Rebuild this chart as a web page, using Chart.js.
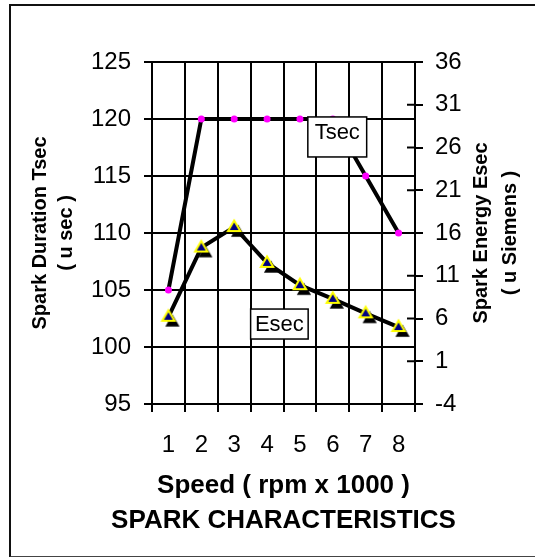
<!DOCTYPE html>
<html><head><meta charset="utf-8">
<script src="https://cdn.jsdelivr.net/npm/chart.js@4.4.0/dist/chart.umd.min.js"></script>
<style>
html,body{margin:0;padding:0;background:#fff;width:535px;height:557px;overflow:hidden;}
#frame{position:absolute;left:9px;top:4px;width:600px;height:550px;border-left:2px solid #111;border-top:2px solid #111;border-bottom:2px solid #444;}
#wrap{position:absolute;left:0;top:0;width:535px;height:557px;}
</style></head><body>
<div id="frame"></div>
<div id="wrap"><canvas id="c" width="535" height="557"></canvas></div>
<script>
// ---- data ----
const speeds = ['1','2','3','4','5','6','7','8'];
const tsecValues = [105,120,120,120,120,120,115,110];
const esecValues = [6.2,14.3,16.7,12.5,9.9,8.3,6.6,5.0];
const tsecAxis = [95,125,5];
const esecAxis = [-4,36,5];
const leftTitle = ['Spark Duration Tsec','( u sec )'];
const rightTitle = ['Spark Energy Esec','( u Siemens )'];
const xTitle = 'Speed ( rpm x 1000 )';
const chartTitle = 'SPARK CHARACTERISTICS';
const seriesLabels = ['Tsec','Esec'];

const FONT = "'Liberation Sans', Arial, sans-serif";

// marker for Esec: yellow-outlined navy triangle with black triangle behind
function makeTri(){
  const c = document.createElement('canvas'); c.width = 32; c.height = 32;
  const g = c.getContext('2d');
  function tri(cx, cy, r){
    g.beginPath(); g.moveTo(cx, cy - r);
    g.lineTo(cx + r*0.95, cy + r*0.62); g.lineTo(cx - r*0.95, cy + r*0.62); g.closePath();
  }
  tri(20, 21, 7.5); g.fillStyle = '#000'; g.fill();
  tri(16, 16, 6.5); g.fillStyle = '#000080'; g.fill();
  g.lineWidth = 2; g.strokeStyle = '#ffff00'; g.lineJoin='miter'; g.stroke();
  return c;
}
const triImg = makeTri();

// annotation boxes (in data units)
const notes = [
  {text: seriesLabels[0], x0: 4.24, x1: 6.03, yTop: 120.18, yBot: 116.67},
  {text: seriesLabels[1], x0: 2.50, x1: 4.25, yTop: 103.33, yBot: 100.70}
];

const extras = {
  id: 'extras',
  afterDatasetsDraw(chart){
    const ctx = chart.ctx, xs = chart.scales.x, ys = chart.scales.y;
    ctx.save();
    notes.forEach(n => {
      const l = xs.getPixelForValue(n.x0), r = xs.getPixelForValue(n.x1);
      const t = ys.getPixelForValue(n.yTop), b = ys.getPixelForValue(n.yBot);
      ctx.fillStyle = '#fff'; ctx.fillRect(l, t, r - l, b - t);
      ctx.strokeStyle = '#000'; ctx.lineWidth = 1.5; ctx.strokeRect(l, t, r - l, b - t);
      ctx.fillStyle = '#000'; ctx.font = '22px ' + FONT;
      ctx.textAlign = 'center'; ctx.textBaseline = 'middle';
      ctx.fillText(n.text, (l + r) / 2, t + 15.5);
    });
    ctx.restore();
  },
  afterDraw(chart){
    const ctx = chart.ctx, y2 = chart.scales.y2, ca = chart.chartArea;
    ctx.save();
    // inner tick marks of right axis
    ctx.strokeStyle = '#000'; ctx.lineWidth = 2;
    y2.ticks.forEach(tk => {
      const py = y2.getPixelForValue(tk.value);
      ctx.beginPath(); ctx.moveTo(y2.left - 8, py); ctx.lineTo(y2.left, py); ctx.stroke();
    });
    // right axis title (reads bottom to top)
    const cy = (ca.top + ca.bottom) / 2;
    ctx.fillStyle = '#000'; ctx.font = 'bold 20px ' + FONT;
    ctx.textAlign = 'center'; ctx.textBaseline = 'middle';
    [66, 95].forEach((dx, i) => {
      ctx.save(); ctx.translate(y2.left + dx, cy); ctx.rotate(-Math.PI / 2);
      ctx.fillText(rightTitle[i], 0, 0); ctx.restore();
    });
    // chart title, centred under the plot
    ctx.font = 'bold 26px ' + FONT;
    ctx.fillText(chartTitle, (ca.left + ca.right) / 2, chart.scales.x.bottom + 15.6);
    ctx.restore();
  }
};

new Chart(document.getElementById('c'), {
  type: 'line',
  data: {
    labels: speeds,
    datasets: [
      {label: seriesLabels[0], data: tsecValues, yAxisID: 'y', borderColor: '#000', borderWidth: 4,
       pointStyle: 'circle', pointRadius: 3.5, pointBackgroundColor: '#ff00ff', pointBorderColor: '#ff00ff',
       pointBorderWidth: 0, tension: 0, fill: false},
      {label: seriesLabels[1], data: esecValues, yAxisID: 'y2', borderColor: '#000', borderWidth: 4,
       pointStyle: triImg, pointRadius: 8, tension: 0, fill: false}
    ]
  },
  options: {
    responsive: false, animation: false, devicePixelRatio: 1,
    layout: {padding: {top: 62, left: 0, right: 0, bottom: 51.6}},
    plugins: {
      legend: {display: false}, tooltip: {enabled: false}, title: {display: false}
    },
    scales: {
      x: {
        offset: true,
        grid: {offset: true, color: '#000', lineWidth: 2, drawTicks: true, tickLength: 8, tickColor: '#000'},
        border: {display: true, color: '#000', width: 2},
        ticks: {color: '#000', padding: 19, font: {family: FONT, size: 24}, maxRotation: 0},
        title: {display: true, text: xTitle, color: '#000',
                font: {family: FONT, size: 26, weight: 'bold', lineHeight: 1.2}, padding: {top: 0, bottom: 3.8}},
        afterFit(s){ s.height = 101.4; }
      },
      y: {
        position: 'left', min: tsecAxis[0], max: tsecAxis[1],
        grid: {color: '#000', lineWidth: 2, drawTicks: true, tickLength: 8, tickColor: '#000'},
        border: {display: true, color: '#000', width: 2},
        ticks: {stepSize: tsecAxis[2], color: '#000', padding: 13, font: {family: FONT, size: 24}},
        title: {display: true, text: leftTitle, color: '#000',
                font: {family: FONT, size: 20, weight: 'bold', lineHeight: 1.3}, padding: {top: 27, bottom: 0}},
        afterFit(s){ s.width = 152; }
      },
      y2: {
        position: 'right', min: esecAxis[0], max: esecAxis[1],
        grid: {drawOnChartArea: false, color: '#000', lineWidth: 2, drawTicks: true, tickLength: 8, tickColor: '#000'},
        border: {display: true, color: '#000', width: 2},
        ticks: {stepSize: esecAxis[2], color: '#000', padding: 12, font: {family: FONT, size: 24}},
        title: {display: false},
        afterFit(s){ s.width = 120; }
      }
    }
  },
  plugins: [extras]
});
</script>
</body></html>
